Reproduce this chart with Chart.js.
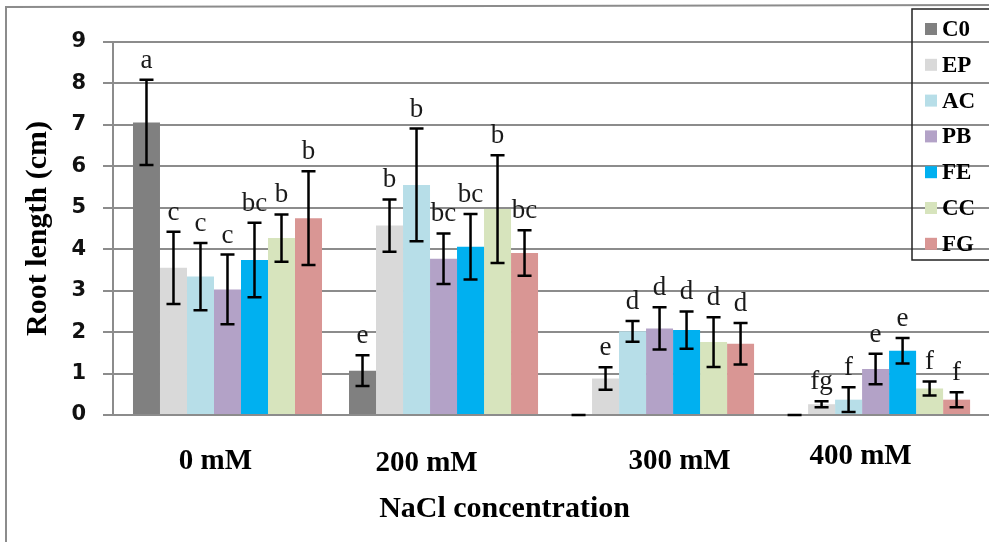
<!DOCTYPE html>
<html>
<head>
<meta charset="utf-8">
<script src="https://cdn.jsdelivr.net/npm/chart.js@4.4.0/dist/chart.umd.min.js"></script>
<style>
  html, body { margin: 0; padding: 0; background: #fff; }
  #wrap { width: 989px; height: 542px; }
</style>
</head>
<body>
<div id="wrap"><canvas id="rootChart" width="989" height="542"></canvas></div>
<script>
const concentrations = ["0 mM", "200 mM", "300 mM", "400 mM"];
const treatments = ["C0", "EP", "AC", "PB", "FE", "CC", "FG"];
const barColors = ["#808080", "#d9d9d9", "#b7dee8", "#b3a2c7", "#00b0f0", "#d7e4bd", "#d99694"];

// mean root length (cm) per NaCl level
const meanC0 = [7.06, 1.07, 0, 0];
const meanEP = [3.55, 4.57, 0.88, 0.26];
const meanAC = [3.34, 5.55, 2.02, 0.37];
const meanPB = [3.03, 3.77, 2.09, 1.11];
const meanFE = [3.74, 4.06, 2.05, 1.55];
const meanCC = [4.27, 4.97, 1.76, 0.64];
const meanFG = [4.75, 3.91, 1.72, 0.37];

// error bar half-lengths
const errC0 = [1.03, 0.37, 0, 0];
const errEP = [0.87, 0.63, 0.27, 0.07];
const errAC = [0.81, 1.36, 0.25, 0.3];
const errPB = [0.84, 0.61, 0.51, 0.37];
const errFE = [0.9, 0.79, 0.45, 0.31];
const errCC = [0.57, 1.3, 0.6, 0.17];
const errFG = [1.13, 0.55, 0.5, 0.18];

// significance letters
const letC0 = ["a", "e", "", ""];
const letEP = ["c", "b", "e", "fg"];
const letAC = ["c", "b", "d", "f"];
const letPB = ["c", "bc", "d", "e"];
const letFE = ["bc", "bc", "d", "e"];
const letCC = ["b", "b", "d", "f"];
const letFG = ["b", "bc", "d", "f"];

const yTicks = [0, 1, 2, 3, 4, 5, 6, 7, 8, 9];

const means = [meanC0, meanEP, meanAC, meanPB, meanFE, meanCC, meanFG];
const errs = [errC0, errEP, errAC, errPB, errFE, errCC, errFG];
const letters = [letC0, letEP, letAC, letPB, letFE, letCC, letFG];

const gridGray = "#8c8c8c";
const serif = "'Liberation Serif', 'Times New Roman', serif";

// page frame
const framePlugin = {
  id: "frame",
  beforeDraw(chart) {
    const ctx = chart.ctx;
    ctx.save();
    ctx.fillStyle = "#fff";
    ctx.fillRect(0, 0, chart.width, chart.height);
    ctx.strokeStyle = gridGray;
    ctx.lineWidth = 2;
    ctx.beginPath();
    ctx.moveTo(6, chart.height);
    ctx.lineTo(6, 7);
    ctx.lineTo(chart.width, 5);
    ctx.stroke();
    ctx.restore();
  }
};

// error bars + letters above each bar
const errorPlugin = {
  id: "errorBars",
  afterDatasetsDraw(chart) {
    const ctx = chart.ctx;
    const y = chart.scales.y;
    ctx.save();
    ctx.strokeStyle = "#000";
    ctx.lineWidth = 2.5;
    ctx.font = "27px " + serif;
    ctx.fillStyle = "#1a1a1a";
    ctx.textAlign = "center";
    ctx.textBaseline = "alphabetic";
    chart.data.datasets.forEach((ds, i) => {
      chart.getDatasetMeta(i).data.forEach((bar, j) => {
        const v = ds.means[j], e = ds.errors[j];
        const top = y.getPixelForValue(v + e);
        const bot = y.getPixelForValue(Math.max(0, v - e));
        ctx.beginPath();
        ctx.moveTo(bar.x, top); ctx.lineTo(bar.x, bot);
        ctx.moveTo(bar.x - 7, top); ctx.lineTo(bar.x + 7, top);
        ctx.moveTo(bar.x - 7, bot); ctx.lineTo(bar.x + 7, bot);
        ctx.stroke();
        if (ds.letters[j]) ctx.fillText(ds.letters[j], bar.x, top - 12);
      });
    });
    ctx.restore();
  }
};

// category labels + axis title (hand-placed in the original) and the legend box
const labelShift = [-12, -17, 20, -15];
const labelDrop = [54, 56, 54, 49];
const overlayPlugin = {
  id: "overlay",
  afterDraw(chart) {
    const ctx = chart.ctx;
    const xs = chart.scales.x;
    ctx.save();
    ctx.fillStyle = "#000";
    ctx.font = "bold 29px " + serif;
    ctx.textAlign = "center";
    ctx.textBaseline = "alphabetic";
    concentrations.forEach((lab, i) => {
      ctx.fillText(lab, xs.getPixelForValue(i) + labelShift[i], xs.top + labelDrop[i]);
    });
    ctx.font = "bold 30px " + serif;
    ctx.fillText("NaCl concentration", (xs.getPixelForValue(1) + xs.getPixelForValue(2)) / 2 - 47, xs.top + 102);

    ctx.strokeStyle = "#222";
    ctx.lineWidth = 1.5;
    ctx.strokeRect(912, 9, 100, 251);
    ctx.font = "bold 23px " + serif;
    ctx.textAlign = "left";
    ctx.textBaseline = "middle";
    chart.data.datasets.forEach((ds, i) => {
      const ly = 29 + i * 35.8;
      ctx.fillStyle = ds.backgroundColor;
      ctx.fillRect(925, ly - 6, 12, 12);
      ctx.fillStyle = "#000";
      ctx.fillText(ds.label, 942, ly + 1);
    });
    ctx.restore();
  }
};

new Chart(document.getElementById("rootChart"), {
  type: "bar",
  data: {
    datasets: treatments.map((t, i) => ({
      label: t,
      data: means[i].map((v, j) => ({ x: j, y: v })),
      means: means[i],
      errors: errs[i],
      letters: letters[i],
      backgroundColor: barColors[i],
      borderWidth: 0,
      categoryPercentage: 0.875,
      barPercentage: 1.0
    }))
  },
  options: {
    responsive: false,
    animation: false,
    layout: { padding: { top: 42, left: 0, right: 0, bottom: 0 } },
    plugins: { legend: { display: false }, tooltip: { enabled: false } },
    scales: {
      x: {
        type: "linear",
        min: -0.53,
        max: 3.525,
        offset: false,
        afterBuildTicks(scale) {
          scale.ticks = concentrations.map((c, i) => ({ value: i }));
        },
        ticks: { display: false },
        grid: { display: false },
        border: { color: gridGray, width: 2 },
        afterFit(scale) { scale.height = 127; }
      },
      y: {
        min: yTicks[0],
        max: yTicks[yTicks.length - 1],
        ticks: {
          stepSize: 1,
          padding: 17,
          color: "#111",
          font: { family: "'DejaVu Sans'", weight: "bold", size: 21 }
        },
        grid: { color: gridGray, lineWidth: 2, tickLength: 10 },
        border: { color: gridGray, width: 2 },
        title: {
          display: true,
          text: "Root length (cm)",
          color: "#000",
          font: { family: serif, weight: "bold", size: 30 },
          padding: { top: 20, bottom: 0 }
        },
        afterFit(scale) { scale.width = 113; }
      }
    }
  },
  plugins: [framePlugin, errorPlugin, overlayPlugin]
});
</script>
</body>
</html>
